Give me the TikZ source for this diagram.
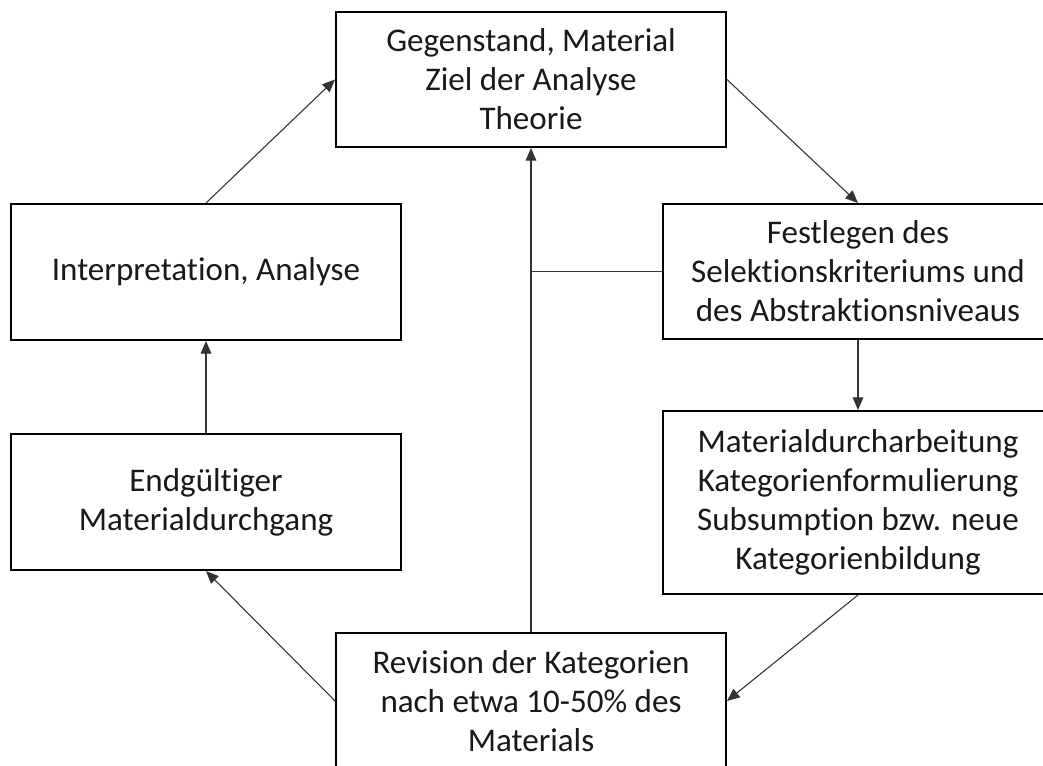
\documentclass[tikz,border=0pt]{standalone}
\usepackage{fontspec}
\setmainfont[Ligatures={NoCommon}]{Carlito}
\usetikzlibrary{arrows.meta}
\tikzset{
  box/.style={draw=black, line width=1.5pt, rectangle, align=center, inner sep=0pt,
    minimum width=390*0.75pt, text=black!90, font=\fontsize{24.8}{29.3}\selectfont},
  conn/.style={draw=black!80, line width=0.8pt, -{Triangle[length=9.5pt,width=8pt]}},
  plain/.style={draw=black!80, line width=0.8pt}
}
\begin{document}
\begin{tikzpicture}[x=0.75pt,y=-0.75pt]
\clip (0,0) rectangle (1043,765);
\fill[white] (0,0) rectangle (1043,765);
\node[box, minimum height=135*0.75pt] (top) at (531,79.5) {Gegenstand, Material\\Ziel der Analyse\\Theorie};
\node[box, minimum height=135*0.75pt] (rA) at (858,271.5) {Festlegen des\\Selektionskriteriums und\\des Abstraktionsniveaus};
\node[box, minimum height=183*0.75pt] (rB) at (858,502.5) {Materialdurcharbeitung\\Kategorienformulierung\\Subsumption bzw. neue\\Kategorienbildung};
\node[box, minimum height=136*0.75pt] (bot) at (531,701) {Revision der Kategorien\\nach etwa 10-50\% des\\Materials};
\node[box, minimum height=136*0.75pt] (lA) at (206,272) {Interpretation, Analyse};
\node[box, minimum height=136*0.75pt] (lB) at (206,502) {Endgültiger\\Materialdurchgang};
\draw[conn] (lA.north) -- (top.west);
\draw[conn] (top.east) -- (rA.north);
\draw[conn] (rA.south) -- (rB.north);
\draw[conn] (rB.south) -- (bot.east);
\draw[conn] (bot.north) -- (top.south);
\draw[plain] (rA.west) -- (rA.west -| bot.north);
\draw[conn] (bot.west) -- (lB.south);
\draw[conn] (lB.north) -- (lA.south);
\end{tikzpicture}
\end{document}
